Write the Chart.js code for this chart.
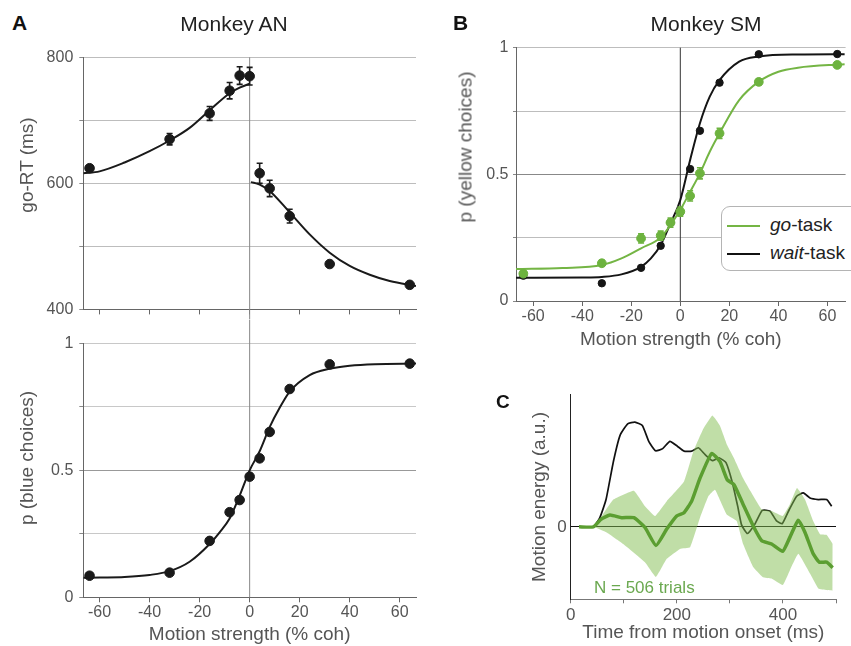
<!DOCTYPE html>
<html>
<head>
<meta charset="utf-8">
<script src="https://cdn.jsdelivr.net/npm/chart.js@4.4.1/dist/chart.umd.min.js"></script>
<style>
  body { margin: 0; background: #fff; font-family: "Liberation Sans", Arial, sans-serif; }
  #page { position: relative; width: 851px; height: 646px; overflow: hidden; }
  .box { position: absolute; }
  .txt { position: absolute; line-height: 1; white-space: nowrap; }
  .letter { font-weight: bold; font-size: 21px; color: #111; }
  .title { font-size: 21px; color: #222; transform: translateX(-50%); }
  .ytitle { font-size: 19px; color: #555; transform: translate(-50%, -50%) rotate(-90deg); }
  #legend { position: absolute; left: 721px; top: 206px; width: 140px; height: 63px;
            border: 1px solid #b4b4b4; border-radius: 9px; background: #fff; }
  .row { position: absolute; left: 5px; height: 19px; line-height: 19px; font-size: 19px; color: #222; white-space: nowrap; }
  .swatch { display: inline-block; width: 33px; height: 2.5px; vertical-align: middle; margin-right: 10px; }
</style>
</head>
<body>
<div id="page">
  <div class="box" style="left:0;top:40px"><canvas id="rtChart" width="430" height="285"></canvas></div>
  <div class="box" style="left:0;top:320px"><canvas id="blueChart" width="430" height="326"></canvas></div>
  <div class="box" style="left:440px;top:30px"><canvas id="yellowChart" width="411" height="321"></canvas></div>
  <div class="box" style="left:480px;top:380px"><canvas id="energyChart" width="371" height="266"></canvas></div>

  <div class="txt letter" style="left:12px;top:12px">A</div>
  <div class="txt letter" style="left:453px;top:12px">B</div>
  <div class="txt letter" style="left:496px;top:392px;font-size:19px">C</div>
  <div class="txt title" style="left:234px;top:13px">Monkey AN</div>
  <div class="txt title" style="left:706px;top:13px">Monkey SM</div>

  <div class="txt ytitle" style="left:26px;top:165px">go-RT (ms)</div>
  <div class="txt ytitle" style="left:26px;top:458px">p (blue choices)</div>
  <div class="txt ytitle" style="left:465px;top:147px">p (yellow choices)</div>
  <div class="txt ytitle" style="left:538px;top:497px">Motion energy (a.u.)</div>

  <div id="legend">
    <div class="row" style="top:8px"><span class="swatch" style="background:#74b544"></span><i>go</i>-task</div>
    <div class="row" style="top:36px"><span class="swatch" style="background:#111"></span><i>wait</i>-task</div>
  </div>
  <div class="txt" style="left:594px;top:579px;font-size:17px;color:#6aa84f">N = 506 trials</div>
</div>

<script>
// ---- data: panel A, monkey AN ----
const cohAN = [-64, -32, -16, -8, -4, 0, 4, 8, 16, 32, 64];
const rtAN = [624, 670, 711, 747, 771, 770, 616, 592, 548, 472, 439];
const rtErrAN = [0, 9, 11, 13, 14, 14, 16, 13, 11, 0, 0];
const rtFitLeftX = [-66.5, -60, -50, -40, -32, -24, -16, -8, -4, 0];
const rtFitLeftY = [616, 619, 633, 651, 668, 688, 716, 743, 752, 758];
const rtFitRightX = [0.5, 4, 8, 16, 24, 32, 40, 48, 56, 66.5];
const rtFitRightY = [602, 598, 588, 554, 519, 490, 469, 455, 445, 437];
const rtTickLabels = [400, 600, 800];

const pBlue = [0.085, 0.097, 0.222, 0.335, 0.383, 0.475, 0.547, 0.651, 0.82, 0.917, 0.92];
const blueFitX = [-66.5, -60, -50, -40, -32, -24, -16, -12, -8, -4, 0, 4, 8, 12, 16, 24, 32, 40, 50, 66.5];
const blueFitY = [0.077, 0.078, 0.08, 0.088, 0.103, 0.14, 0.21, 0.256, 0.31, 0.4, 0.5, 0.575, 0.67, 0.746, 0.81, 0.875, 0.9, 0.912, 0.918, 0.92];

// ---- data: panel B, monkey SM ----
const cohSM = [-64, -32, -16, -8, -4, 0, 4, 8, 16, 32, 64];
const pWait = [0.1, 0.07, 0.131, 0.218, 0.31, 0.35, 0.521, 0.672, 0.862, 0.974, 0.975];
const pGo = [0.108, 0.149, 0.247, 0.258, 0.309, 0.353, 0.415, 0.504, 0.662, 0.865, 0.932];
const pGoErr = [0.01, 0.012, 0.018, 0.018, 0.018, 0.018, 0.02, 0.022, 0.02, 0.012, 0.01];
const waitFitX = [-67, -40, -32, -24, -16, -12, -8, -4, 0, 4, 8, 12, 16, 24, 32, 48, 67];
const waitFitY = [0.092, 0.093, 0.095, 0.105, 0.135, 0.168, 0.221, 0.307, 0.399, 0.557, 0.702, 0.807, 0.872, 0.945, 0.965, 0.973, 0.974];
const goFitX = [-67, -48, -32, -24, -16, -8, -4, 0, 4, 8, 12, 16, 24, 32, 40, 48, 67];
const goFitY = [0.126, 0.13, 0.142, 0.168, 0.208, 0.251, 0.3, 0.36, 0.431, 0.504, 0.589, 0.662, 0.793, 0.866, 0.905, 0.921, 0.935];
const cohTicks = [-60, -40, -20, 0, 20, 40, 60];
const pTickLabels = [0, 0.5, 1];

// ---- data: panel C, motion energy kernels ----
const waitT = [15.7, 42.7, 55, 66.6, 80.4, 93, 107.4, 121, 135, 147.6, 160, 173.4, 187, 201, 213.6, 228, 240.6, 253, 267, 279.5, 292.7, 304.6, 314.7, 322, 333, 347, 361, 375.6, 388, 398.8, 412, 425.9, 438.4, 451, 466.7, 482.4, 491.8];
const waitE = [0, 0, 0.07, 0.206, 0.491, 0.69, 0.777, 0.789, 0.764, 0.64, 0.573, 0.59, 0.645, 0.608, 0.571, 0.571, 0.596, 0.546, 0.499, 0.521, 0.484, 0.335, 0.156, 0.015, -0.05, 0.02, 0.124, 0.119, 0.045, 0.025, 0.131, 0.231, 0.256, 0.218, 0.206, 0.206, 0.156];
const goT = [15.7, 42.7, 57, 74, 96, 119, 140, 160.8, 181, 199.7, 213.6, 228, 243.7, 265.7, 281.4, 295, 307.8, 325, 344, 360, 378.7, 399.5, 413, 429, 441.6, 457, 468.6, 482.4, 493.7];
const goE = [0, 0, 0.057, 0.089, 0.069, 0.069, -0.005, -0.141, -0.017, 0.082, 0.107, 0.194, 0.367, 0.553, 0.491, 0.355, 0.318, 0.169, 0.007, -0.104, -0.129, -0.184, -0.079, 0.05, -0.042, -0.203, -0.266, -0.266, -0.308];
const bandUpT = [42.7, 60, 80.4, 119, 140, 159, 181, 213.6, 231, 250, 267, 281, 295, 308, 325, 339, 360, 378.7, 399.5, 413, 426.5, 441.6, 457, 470, 482, 494];
const bandUp = [0, 0.09, 0.206, 0.273, 0.156, 0.082, 0.194, 0.342, 0.566, 0.739, 0.839, 0.764, 0.615, 0.516, 0.367, 0.268, 0.132, 0.119, 0.082, 0.169, 0.293, 0.206, 0.045, -0.055, -0.06, -0.129];
const bandLoT = [42.7, 67.8, 99, 140, 160.8, 181, 206, 225, 243.7, 259.4, 272, 294, 312.8, 325, 344, 361.6, 378.7, 399.5, 413, 429, 451, 466.7, 482.4, 493.7];
const bandLo = [0, -0.042, -0.129, -0.266, -0.377, -0.241, -0.166, -0.154, 0.069, 0.231, 0.28, 0.094, 0.045, -0.129, -0.303, -0.377, -0.39, -0.439, -0.328, -0.203, -0.352, -0.464, -0.476, -0.481];
const timeTicks = [0, 100, 200, 300, 400, 500];
const timeTickLabels = [0, 200, 400];

const pts = (xs, ys) => xs.map((x, i) => ({ x: x, y: ys[i] }));
const FONT = '"Liberation Sans", Arial, sans-serif';

// vertical error bars for datasets that carry an `errors` array
const errorBars = {
  id: 'errorBars',
  afterDatasetDraw(chart, args) {
    const ds = chart.data.datasets[args.index];
    if (!ds.errors) return;
    const ctx = chart.ctx, y = chart.scales.y;
    ctx.save();
    ctx.strokeStyle = ds.borderColor;
    ctx.lineWidth = 1.6;
    args.meta.data.forEach((pt, i) => {
      const e = ds.errors[i];
      if (!e) return;
      const v = ds.data[i].y;
      const top = y.getPixelForValue(v + e), bot = y.getPixelForValue(v - e);
      ctx.beginPath();
      ctx.moveTo(pt.x, top); ctx.lineTo(pt.x, bot);
      ctx.moveTo(pt.x - 3, top); ctx.lineTo(pt.x + 3, top);
      ctx.moveTo(pt.x - 3, bot); ctx.lineTo(pt.x + 3, bot);
      ctx.stroke();
    });
    ctx.restore();
  }
};

// vertical line at x = 0, can run past the plot area
const zeroLine = {
  id: 'zeroLine',
  beforeDatasetsDraw(chart, args, opts) {
    if (!opts.color) return;
    const ctx = chart.ctx;
    const x = chart.scales.x.getPixelForValue(0);
    const { top, bottom } = chart.chartArea;
    ctx.save();
    ctx.strokeStyle = opts.color;
    ctx.lineWidth = 1;
    ctx.beginPath();
    ctx.moveTo(x, top - (opts.above || 0));
    ctx.lineTo(x, bottom + (opts.below || 0));
    ctx.stroke();
    ctx.restore();
  }
};
Chart.register(errorBars, zeroLine);

Chart.defaults.font.family = FONT;
Chart.defaults.animation = false;
Chart.defaults.responsive = false;
Chart.defaults.plugins.legend.display = false;
Chart.defaults.plugins.tooltip.enabled = false;

function cohAxis(height, showLabels, title) {
  return {
    type: 'linear', min: -66.5, max: 66.5,
    afterBuildTicks: s => { s.ticks = cohTicks.map(v => ({ value: v })); },
    afterFit: s => { s.height = height; },
    ticks: { color: '#555', font: { size: 16 }, padding: 1, maxRotation: 0,
             callback: v => showLabels ? v : '' },
    grid: { drawOnChartArea: false, tickLength: 5, tickColor: '#666' },
    border: { color: '#666' },
    title: { display: !!title, text: title, color: '#555', font: { size: 19 }, padding: 0 }
  };
}

// A, top: go reaction times
new Chart(document.getElementById('rtChart'), {
  type: 'line',
  data: {
    datasets: [
      { data: pts(cohAN, rtAN), errors: rtErrAN, showLine: false, pointRadius: 4.8,
        backgroundColor: '#1a1a1a', borderColor: '#1a1a1a' },
      { data: pts(rtFitLeftX, rtFitLeftY), pointRadius: 0, borderColor: '#1a1a1a', borderWidth: 2,
        cubicInterpolationMode: 'monotone' },
      { data: pts(rtFitRightX, rtFitRightY), pointRadius: 0, borderColor: '#1a1a1a', borderWidth: 2,
        cubicInterpolationMode: 'monotone' }
    ]
  },
  options: {
    layout: { padding: { top: 17.3, right: 14, left: 0, bottom: 0 } },
    plugins: { zeroLine: { color: '#888', below: 10 } },
    scales: {
      x: cohAxis(14.3, false, ''),
      y: {
        min: 400, max: 800,
        afterFit: s => { s.width = 83.3; },
        ticks: { stepSize: 100, color: '#555', font: { size: 16 }, padding: 6,
                 callback: v => rtTickLabels.includes(v) ? v : '' },
        grid: { color: '#bdbdbd', tickLength: 4, tickColor: '#888' },
        border: { color: '#666' }
      }
    }
  }
});

// A, bottom: choice probability
new Chart(document.getElementById('blueChart'), {
  type: 'line',
  data: {
    datasets: [
      { data: pts(cohAN, pBlue), showLine: false, pointRadius: 4.8,
        backgroundColor: '#1a1a1a', borderColor: '#1a1a1a' },
      { data: pts(blueFitX, blueFitY), pointRadius: 0, borderColor: '#1a1a1a', borderWidth: 2,
        cubicInterpolationMode: 'monotone' }
    ]
  },
  options: {
    layout: { padding: { top: 23.3, right: 14, left: 0, bottom: 0 } },
    plugins: { zeroLine: { color: '#888', above: 23.3 } },
    scales: {
      x: cohAxis(48.7, true, 'Motion strength (% coh)'),
      y: {
        min: 0, max: 1,
        afterFit: s => { s.width = 83.3; },
        ticks: { stepSize: 0.25, color: '#555', font: { size: 16 }, padding: 6,
                 callback: v => pTickLabels.includes(v) ? v : '' },
        grid: { color: c => c.tick.value === 0.5 ? '#999' : '#c8c8c8', tickLength: 4, tickColor: '#888' },
        border: { color: '#666' }
      }
    }
  }
});

// B: go-task vs wait-task choices
new Chart(document.getElementById('yellowChart'), {
  type: 'line',
  data: {
    datasets: [
      { data: pts(cohSM, pGo), errors: pGoErr, showLine: false, pointRadius: 4.4,
        backgroundColor: '#6db33f', borderColor: '#6db33f' },
      { data: pts(goFitX, goFitY), pointRadius: 0, borderColor: '#74b544', borderWidth: 2,
        cubicInterpolationMode: 'monotone' },
      { data: pts(cohSM, pWait), showLine: false, pointRadius: 3.7,
        backgroundColor: '#151515', borderColor: '#151515' },
      { data: pts(waitFitX, waitFitY), pointRadius: 0, borderColor: '#151515', borderWidth: 2,
        cubicInterpolationMode: 'monotone' }
    ]
  },
  options: {
    layout: { padding: { top: 17.7, right: 1, left: 0, bottom: 0 } },
    plugins: { zeroLine: { color: '#333' } },
    scales: {
      x: Object.assign(cohAxis(50, true, 'Motion strength (% coh)'), { min: -67, max: 67.4 }),
      y: {
        min: 0, max: 1,
        afterFit: s => { s.width = 76; },
        ticks: { stepSize: 0.25, color: '#555', font: { size: 16 }, padding: 4.5,
                 callback: v => pTickLabels.includes(v) ? v : '' },
        grid: { color: c => c.tick.value === 0.5 ? '#888' : '#bdbdbd', tickLength: 3, tickColor: '#888' },
        border: { color: '#666' }
      }
    }
  }
});

// C: motion energy kernels
new Chart(document.getElementById('energyChart'), {
  type: 'line',
  data: {
    datasets: [
      { data: pts(goT, goE), pointRadius: 0, borderColor: '#5b9e31', borderWidth: 3.5, tension: 0.15 },
      { data: pts(bandUpT, bandUp), pointRadius: 0, borderWidth: 0, borderColor: 'rgba(0,0,0,0)',
        backgroundColor: 'rgba(130,190,80,0.5)', fill: '+1', tension: 0.1 },
      { data: pts(bandLoT, bandLo), pointRadius: 0, borderWidth: 0, borderColor: 'rgba(0,0,0,0)',
        fill: false, tension: 0.1 },
      { data: pts(waitT, waitE), pointRadius: 0, borderColor: '#111', borderWidth: 1.7, tension: 0.15 }
    ]
  },
  options: {
    layout: { padding: { top: 11.7, right: 15, left: 0, bottom: 0 } },
    scales: {
      x: {
        type: 'linear', min: 0, max: 500,
        afterBuildTicks: s => { s.ticks = timeTicks.map(v => ({ value: v })); },
        afterFit: s => { s.height = 46.7; },
        ticks: { color: '#555', font: { size: 17 }, padding: 1.5, maxRotation: 0,
                 callback: v => timeTickLabels.includes(v) ? v : '' },
        grid: { drawOnChartArea: false, tickLength: 4, tickColor: '#777' },
        border: { color: '#777' },
        title: { display: true, text: 'Time from motion onset (ms)', color: '#555', font: { size: 19 },
                 padding: { top: 0, bottom: 1.6 } }
      },
      y: {
        min: -0.546, max: 1,
        afterBuildTicks: s => { s.ticks = [{ value: 0 }]; },
        afterFit: s => { s.width = 90.7; },
        ticks: { color: '#555', font: { size: 17 }, padding: 4 },
        grid: { color: '#111', drawTicks: false },
        border: { color: '#222' }
      }
    }
  }
});
</script>
</body>
</html>
